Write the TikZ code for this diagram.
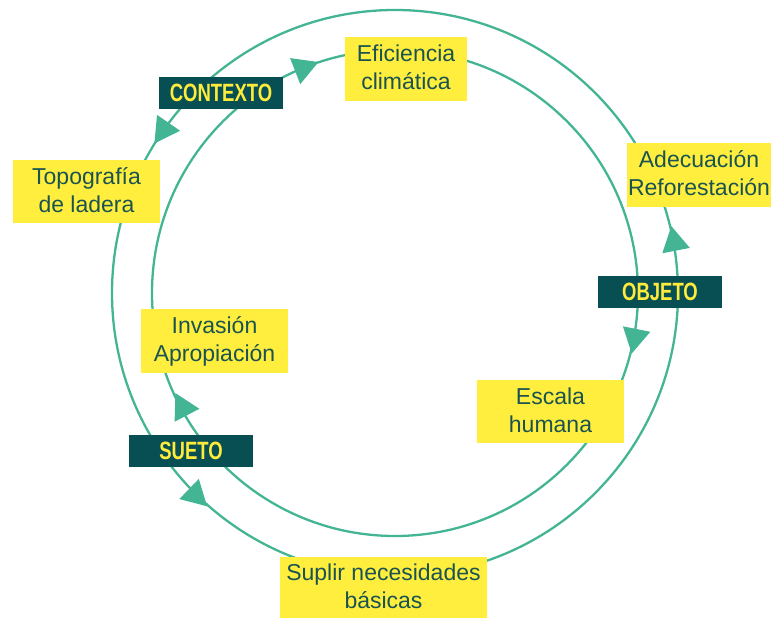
\documentclass[tikz,border=0pt]{standalone}
\usepackage{fontspec}
\setmainfont{Liberation Sans}
\newfontfamily\condfont[FakeStretch=0.74]{Liberation Sans}
\definecolor{lineg}{HTML}{44B594}
\definecolor{darkbox}{HTML}{084F53}
\definecolor{yelbox}{HTML}{FFEE3E}
\definecolor{yeltext}{HTML}{FFEB3B}
\definecolor{txt}{HTML}{1A5350}
\newcommand\arrowtri[3]{%
  \fill[lineg, shift={(395,325)}, rotate=#2, yscale=#3] (#1-14,-12) -- (#1+14,-12) -- (#1,13) -- cycle;}
\newcommand\stl{\rule[-7pt]{0pt}{28pt}}
\begin{document}
\begin{tikzpicture}[x=1pt,y=1pt,
  ring/.style={draw=lineg, line width=2.3pt},
  ybox/.style={fill=yelbox, inner sep=0pt, align=center, text=txt,
    font=\fontsize{23}{28}\selectfont},
  dbox/.style={fill=darkbox, inner sep=0pt, minimum width=124pt, minimum height=32pt,
    text=yeltext, font=\condfont\bfseries\fontsize{25}{28}\selectfont}]
\useasboundingbox (0,0) rectangle (771,618);
\coordinate (c) at (395,325);
\draw[ring] (c) circle[radius=283];
\draw[ring] (c) circle[radius=243];
% outer ring arrows (counterclockwise)
\arrowtri{283}{145.5}{1}
\arrowtri{284}{11}{1}
\arrowtri{284}{226}{1}
% inner ring arrows (clockwise)
\arrowtri{243}{111.4}{-1}
\arrowtri{244}{-11.3}{-1}
\arrowtri{241}{207.6}{-1}
% yellow boxes
\node[ybox, minimum width=147pt, minimum height=63pt] (topo) at (86.5,426.5) {\stl Topografía\\\stl de ladera};
\node[ybox, minimum width=122pt, minimum height=64pt] (efic) at (406,549) {\stl Eficiencia\\\stl climática};
\node[ybox, minimum width=144pt, minimum height=64pt] (adec) at (699,443) {\stl Adecuación\\\stl Reforestación};
\node[ybox, minimum width=147pt, minimum height=64pt] (inva) at (214.5,277) {\stl Invasión\\\stl Apropiación};
\node[ybox, minimum width=147pt, minimum height=63pt] (esca) at (550.5,206.5) {\stl Escala\\\stl humana};
\node[ybox, minimum width=207pt, minimum height=61pt] (supl) at (383.5,30.5) {\stl Suplir necesidades\\\stl básicas};
% dark labels
\node[dbox] (contexto) at (221,525) {CONTEXTO};
\node[dbox] (objeto) at (660,326) {OBJETO};
\node[dbox] (sueto) at (191,167) {SUETO};
\end{tikzpicture}
\end{document}
